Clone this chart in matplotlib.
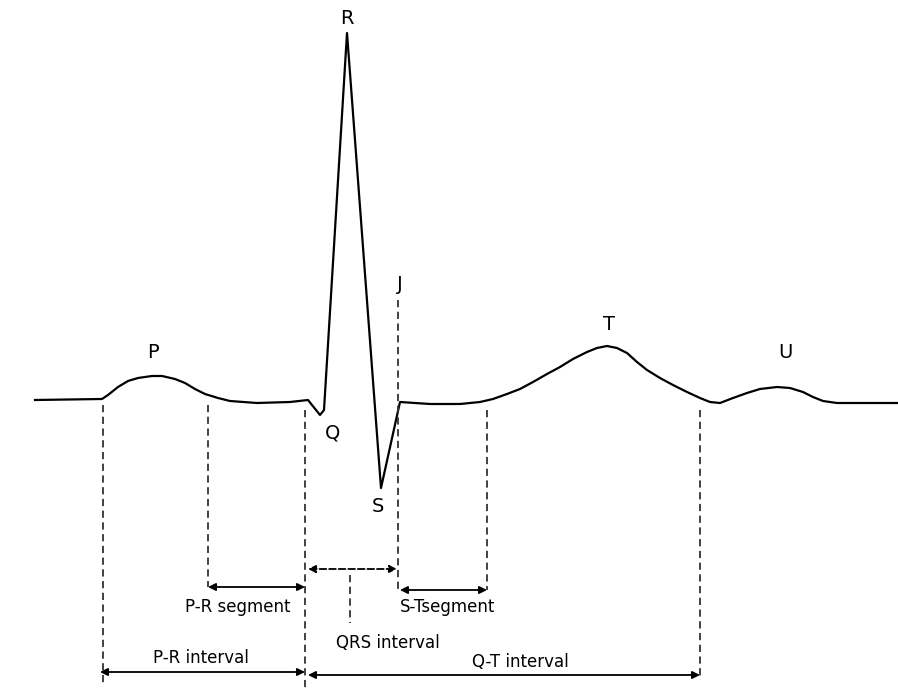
import numpy as np
import matplotlib.pyplot as plt

# waveform (pixel units, y grows downward)
trace_x = [35, 102, 108, 118, 128, 138, 152, 162, 175, 185, 195, 205, 218,
           230, 257, 290, 308,
           320, 324, 347, 381, 400, 430, 460, 480,
           493, 507, 520, 533, 547, 560, 573, 587, 597, 607,
           617, 627, 637, 647, 660, 673, 687, 700, 710, 720,
           733, 747, 760, 777, 790, 803, 813, 823, 837, 898]
trace_y = [400, 399, 395, 387, 381, 378, 376, 376, 379, 383, 389, 394, 398,
           401, 403, 402, 400,
           415, 410, 33, 488, 402, 404, 404, 402,
           399, 394, 389, 382, 374, 367, 359, 352, 348, 346,
           348, 353, 362, 370, 378, 385, 392, 398, 402, 403,
           398, 393, 389, 387, 388, 392, 397, 401, 403, 403]

wave_names = ['P', 'Q', 'R', 'S', 'J', 'T', 'U']
wave_x = [153, 333, 347, 378, 400, 609, 785]
wave_y = [353, 433, 18, 507, 285, 325, 353]

# dashed guide lines: x, top, bottom
guide_x = [103, 208, 305, 398, 487, 700, 350]
guide_top = [405, 405, 410, 300, 410, 410, 575]
guide_bot = [685, 587, 688, 593, 590, 680, 623]

# measurement arrows
meas_names = ['P-R segment', 'QRS interval', 'S-Tsegment', 'P-R interval', 'Q-T interval']
meas_x0 = [208, 308, 400, 100, 308]
meas_x1 = [305, 397, 487, 305, 700]
meas_y = [587, 569, 590, 672, 675]
meas_dashed = [False, True, False, False, False]
label_x = [238, 388, 448, 201, 520]
label_y = [607, 643, 607, 658, 662]

fig = plt.figure(figsize=(8.98, 6.88), dpi=100)
ax = fig.add_axes([0, 0, 1, 1])
ax.set_xlim(0, 898)
ax.set_ylim(688, 0)
ax.axis('off')

ax.plot(trace_x, trace_y, color='black', lw=1.6, solid_joinstyle='round')

for gx, t, b in zip(guide_x, guide_top, guide_bot):
    ax.plot([gx, gx], [t, b], color='#333333', lw=1.3, ls=(0, (4, 2.5)))

for x0, x1, y, d in zip(meas_x0, meas_x1, meas_y, meas_dashed):
    ax.annotate('', xy=(x1, y), xytext=(x0, y),
                arrowprops=dict(arrowstyle='<|-|>', color='black', lw=1.3,
                                mutation_scale=11, shrinkA=0, shrinkB=0,
                                ls='--' if d else '-'))

for name, x, y in zip(wave_names, wave_x, wave_y):
    ax.text(x, y, name, fontsize=14, ha='center', va='center')

for name, x, y in zip(meas_names, label_x, label_y):
    ax.text(x, y, name, fontsize=12, ha='center', va='center')

fig.savefig('out.png', dpi=100)
